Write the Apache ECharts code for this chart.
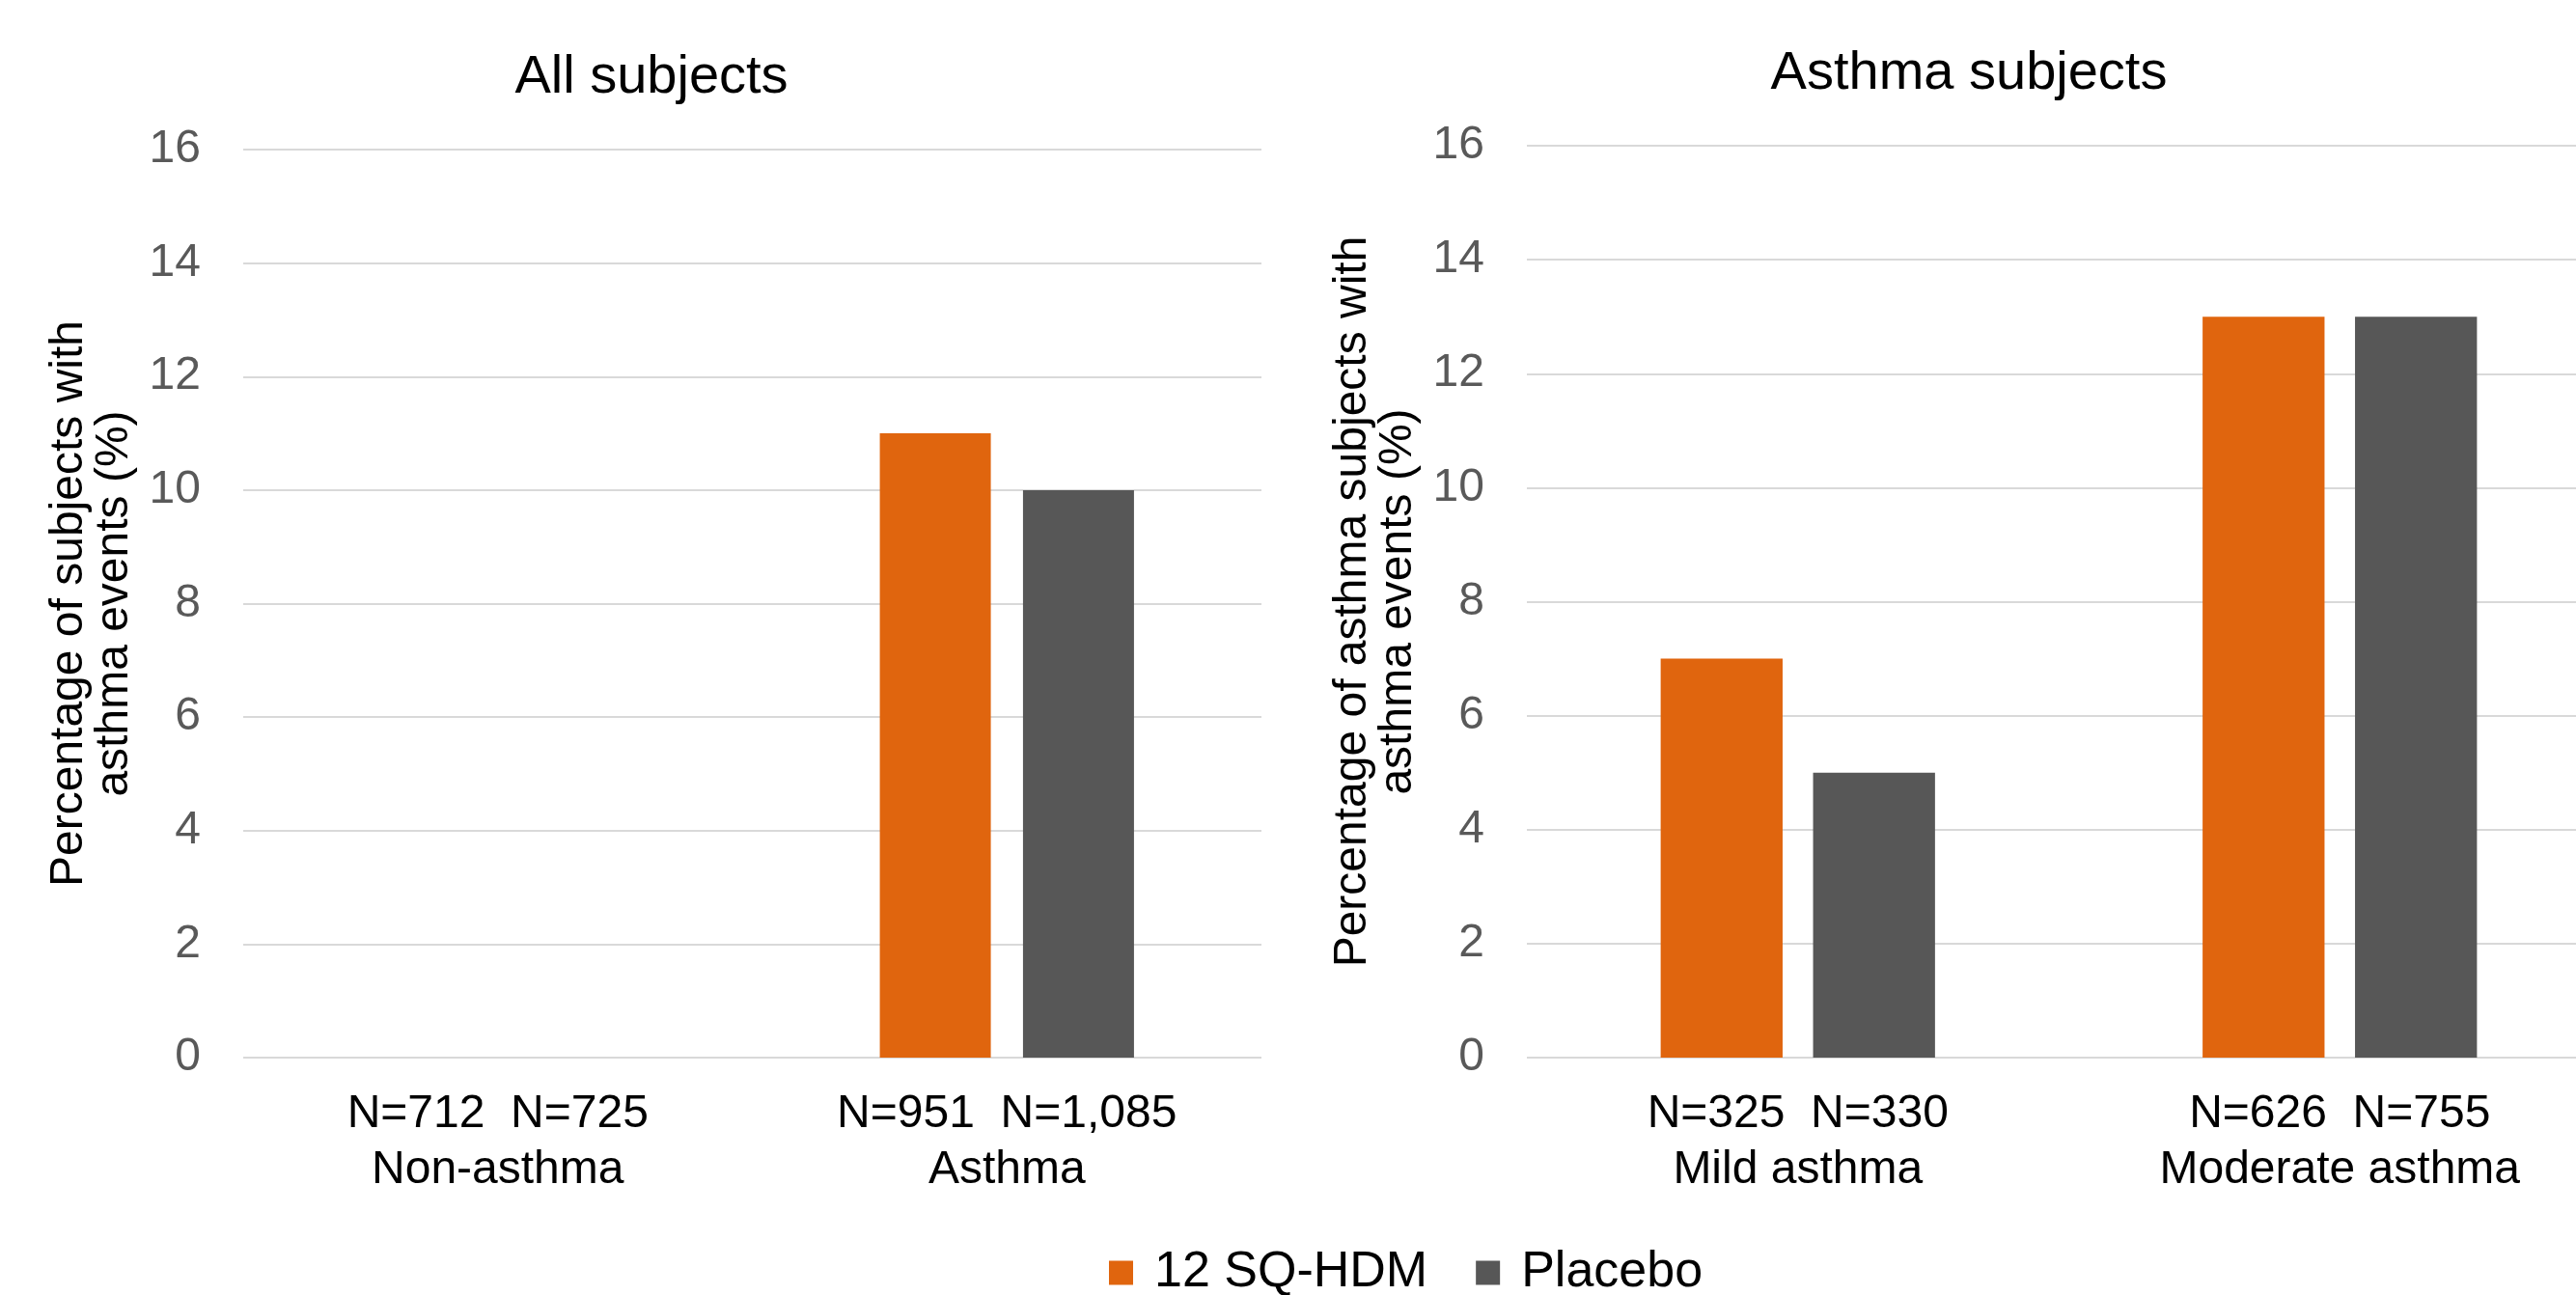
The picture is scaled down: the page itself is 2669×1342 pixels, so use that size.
<!DOCTYPE html>
<html>
<head>
<meta charset="utf-8">
<script src="https://cdn.jsdelivr.net/npm/echarts@6/dist/echarts.min.js"></script>
<style>
html,body{margin:0;padding:0;background:#fff;}
#chart{width:2669px;height:1342px;}
</style>
</head>
<body>
<div id="chart"></div>
<script>
// ---- data ----
const seriesNames = ['12 SQ-HDM', 'Placebo'];
const leftCategories = ['Non-asthma', 'Asthma'];
const leftNActive = ['N=712', 'N=951'];
const leftNPlacebo = ['N=725', 'N=1,085'];
const leftActive = [0, 11];
const leftPlacebo = [0, 10];

const rightCategories = ['Mild asthma', 'Moderate asthma'];
const rightNActive = ['N=325', 'N=626'];
const rightNPlacebo = ['N=330', 'N=755'];
const rightActive = [7, 13];
const rightPlacebo = [5, 13];

const yTicks = [0, 2, 4, 6, 8, 10, 12, 14, 16];

const leftTitle = 'All subjects';
const rightTitle = 'Asthma subjects';
const leftYName = 'Percentage of subjects with\nasthma events (%)';
const rightYName = 'Percentage of asthma subjects with\nasthma events (%)';

// ---- styles ----
const ORANGE = '#E0650E';
const GRAY = '#575757';
const FONT = '"Liberation Sans", Arial, sans-serif';

function xLabels(cats, na, np) {
  return cats.map((c, i) => na[i] + '  ' + np[i] + '\n' + c);
}

function yAxis(gi, name) {
  return {
    type: 'value', gridIndex: gi,
    min: yTicks[0], max: yTicks[yTicks.length - 1], interval: 2,
    name: name, nameLocation: 'middle', nameRotate: 90, nameGap: 110,
    nameTextStyle: { color: '#000', fontSize: 48, fontFamily: FONT, lineHeight: 47, align: 'center' },
    axisLine: { show: false }, axisTick: { show: false },
    axisLabel: { color: '#595959', fontSize: 48, fontFamily: FONT, margin: 44 },
    splitLine: { lineStyle: { color: '#d9d9d9', width: 2 } }
  };
}

function xAxis(gi, labels) {
  return {
    type: 'category', gridIndex: gi, data: labels,
    axisLine: { show: false }, axisTick: { show: false },
    axisLabel: { color: '#000', fontSize: 48, fontFamily: FONT, lineHeight: 58, margin: 30, interval: 0 }
  };
}

const chart = echarts.init(document.getElementById('chart'));
chart.setOption({
  backgroundColor: '#fff',
  animation: false,
  title: [
    { text: leftTitle, left: 670, top: 48, textAlign: 'center',
      textStyle: { fontSize: 56, fontWeight: 'normal', color: '#000', fontFamily: FONT } },
    { text: rightTitle, left: 2035, top: 44, textAlign: 'center',
      textStyle: { fontSize: 56, fontWeight: 'normal', color: '#000', fontFamily: FONT } }
  ],
  legend: {
    data: seriesNames, left: 1144, top: 1288, icon: 'rect',
    itemWidth: 25, itemHeight: 25, itemGap: 50,
    textStyle: { fontSize: 52, color: '#000', fontFamily: FONT, padding: [0, 0, 0, 17] }
  },
  grid: [
    { left: 252, right: 1362, top: 155, bottom: 246, outerBoundsMode: 'none' },
    { left: 1582, width: 1123, top: 151, bottom: 246, outerBoundsMode: 'none' }
  ],
  xAxis: [
    xAxis(0, xLabels(leftCategories, leftNActive, leftNPlacebo)),
    xAxis(1, xLabels(rightCategories, rightNActive, rightNPlacebo))
  ],
  yAxis: [yAxis(0, leftYName), yAxis(1, rightYName)],
  series: [
    { name: seriesNames[0], type: 'bar', xAxisIndex: 0, yAxisIndex: 0, data: leftActive,
      itemStyle: { color: ORANGE }, barWidth: '21.8%', barGap: '29%' },
    { name: seriesNames[1], type: 'bar', xAxisIndex: 0, yAxisIndex: 0, data: leftPlacebo,
      itemStyle: { color: GRAY }, barWidth: '21.8%', barGap: '29%' },
    { name: seriesNames[0], type: 'bar', xAxisIndex: 1, yAxisIndex: 1, data: rightActive,
      itemStyle: { color: ORANGE }, barWidth: '22.5%', barGap: '25%' },
    { name: seriesNames[1], type: 'bar', xAxisIndex: 1, yAxisIndex: 1, data: rightPlacebo,
      itemStyle: { color: GRAY }, barWidth: '22.5%', barGap: '25%' }
  ]
});
</script>
</body>
</html>
